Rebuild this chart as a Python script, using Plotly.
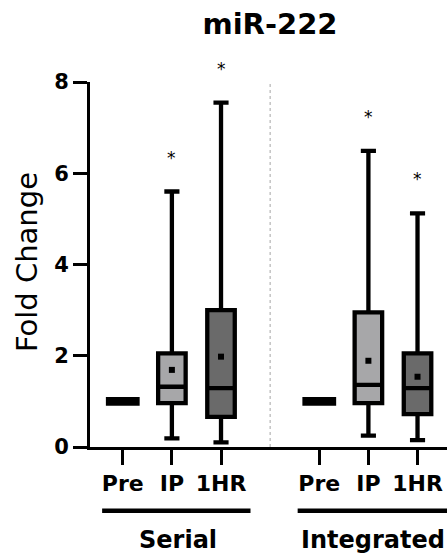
import plotly.graph_objects as go

# ---- data ----
groups = ["Serial", "Integrated"]
categories = ["Pre", "IP", "1HR"]
q1 = [[0.95, 0.96, 0.66], [0.95, 0.96, 0.72]]
median = [[1.0, 1.32, 1.29], [1.0, 1.36, 1.29]]
q3 = [[1.05, 2.05, 3.00], [1.05, 2.95, 2.05]]
lower = [[0.95, 0.19, 0.10], [0.95, 0.25, 0.15]]
upper = [[1.05, 5.60, 7.55], [1.05, 6.49, 5.12]]
mean = [[None, 1.69, 1.98], [None, 1.89, 1.54]]
significant = [[False, True, True], [False, True, True]]
y_ticks = [0, 2, 4, 6, 8]

fills = {"Pre": "#000000", "IP": "#a7a7a9", "1HR": "#6a6a6a"}
FONT = "DejaVu Sans"

fig = go.Figure()
tickvals, ticktext = [], []
mean_x, mean_y = [], []
for g, grp in enumerate(groups):
    for c, cat in enumerate(categories):
        x = g * 4 + c
        tickvals.append(x)
        ticktext.append(cat)
        fig.add_trace(go.Box(
            x=[x], q1=[q1[g][c]], median=[median[g][c]], q3=[q3[g][c]],
            lowerfence=[lower[g][c]], upperfence=[upper[g][c]],
            width=0.6 if cat == "Pre" else 0.56,
            whiskerwidth=0.55,
            fillcolor=fills[cat],
            line=dict(color="black", width=4.3),
            boxpoints=False, showlegend=False, hoverinfo="skip",
        ))
        if mean[g][c] is not None:
            mean_x.append(x)
            mean_y.append(mean[g][c])
        if significant[g][c]:
            fig.add_annotation(x=x, y=upper[g][c], xref="x", yref="y", text="*",
                               showarrow=False, yanchor="bottom", yshift=22,
                               font=dict(family=FONT, size=17, color="black"))

fig.add_trace(go.Scatter(
    x=mean_x, y=mean_y, mode="markers",
    marker=dict(symbol="square", size=6, color="black"),
    showlegend=False, hoverinfo="skip",
))

# divider between groups
fig.add_shape(type="line", xref="x", yref="y", x0=3, x1=3, y0=0, y1=8,
              line=dict(color="#b5b5b5", width=1.2, dash="dot"))

# group underlines and labels
group_spans = [(-0.42, 2.6), (3.56, 7.1)]
group_centers = [1.12, 5.1]
for g, grp in enumerate(groups):
    x0, x1 = group_spans[g]
    fig.add_shape(type="line", xref="x", yref="paper", x0=x0, x1=x1,
                  y0=-0.1745, y1=-0.1745, line=dict(color="black", width=4.5))
    fig.add_annotation(x=group_centers[g], y=-0.255, xref="x", yref="paper",
                       text=grp, showarrow=False, yanchor="middle",
                       font=dict(family=FONT, size=24, color="black", weight="bold"))

fig.add_annotation(x=-0.176, y=0.507, xref="paper", yref="paper", text="Fold Change",
                   textangle=-90, showarrow=False, xanchor="center", yanchor="middle",
                   font=dict(family=FONT, size=29, color="black"))

fig.update_layout(
    width=447, height=556,
    margin=dict(l=90, r=0, t=82, b=109),
    paper_bgcolor="white", plot_bgcolor="white",
    title=dict(text="miR-222", x=0.604, xanchor="center", y=0.957, yanchor="middle",
               font=dict(family=FONT, size=29, color="black", weight="bold")),
    xaxis=dict(range=[-0.667, 6.6], tickvals=tickvals, ticktext=ticktext,
               showline=True, linewidth=3, linecolor="black", showgrid=False,
               zeroline=False, ticks="outside", ticklen=15, tickwidth=3,
               tickcolor="black",
               tickfont=dict(family=FONT, size=22, color="black", weight="bold")),
    yaxis=dict(range=[0, 8], tickvals=y_ticks, showline=True, linewidth=3,
               linecolor="black", showgrid=False, zeroline=False, ticks="outside",
               ticklen=14, tickwidth=3, tickcolor="black",
               tickfont=dict(family=FONT, size=21, color="black", weight="bold")),
)

fig.write_html(
    "out.html",
    config={"displayModeBar": False},
    post_script="document.body.style.margin='0';document.body.style.overflow='hidden';",
)
